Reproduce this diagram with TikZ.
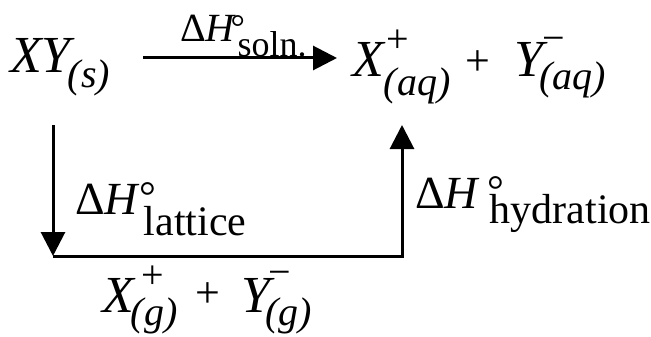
\documentclass[tikz,border=0pt]{standalone}
\usepackage{fontspec}
\setmainfont{Liberation Serif}
\usetikzlibrary{arrows.meta}
\newcommand\fmain{\fontsize{52}{60}\selectfont}
\newcommand\fdh{\fontsize{46}{54}\selectfont}
\newcommand\fdhs{\fontsize{42}{50}\selectfont}
\newcommand\fsub{\fontsize{40}{48}\selectfont}
\newcommand\fsubs{\fontsize{36}{42}\selectfont}
\newcommand\fplus{\fontsize{44}{50}\selectfont}
\begin{document}
\begin{tikzpicture}[x=1pt,y=-1pt,
  every node/.style={inner sep=0pt, outer sep=0pt, anchor=base west},
  arr/.style={line width=3pt, -{Triangle[length=24pt,width=24pt]}}]
\useasboundingbox (0,0) rectangle (651,337);
% species
\node (xy) at (10,73) {\fmain\itshape XY\kern-3pt\raisebox{-15pt}{\fsub(s)}};
\node (aq) at (352,77) {\fmain\itshape X\rlap{\kern3pt\raisebox{24pt}{\fsub\upshape +}}\raisebox{-19pt}{\fsub(aq)}\kern15pt\raisebox{1pt}{\fplus\upshape +}\kern24pt Y\rlap{\kern-1pt\raisebox{25pt}{\fsub\upshape −}}\kern-4pt\raisebox{-13pt}{\fsub(aq)}};
\node (gas) at (102,312) {\fmain\itshape X\rlap{\kern8pt\raisebox{24pt}{\fsub\upshape +}}\kern-3pt\raisebox{-13pt}{\fsub(g)}\kern18pt\raisebox{5pt}{\fplus\upshape +}\kern21pt Y\rlap{\kern-2pt\raisebox{27pt}{\fsub\upshape −}}\kern-5pt\raisebox{-13pt}{\fsub(g)}};
% enthalpy labels
\node (hsol) at (180,42) {\fontsize{40}{48}\selectfont Δ\itshape H\rlap{\kern-4pt\raisebox{2pt}{\fsubs\upshape °}}\kern3pt\raisebox{-15pt}{\fsubs\upshape soln.}};
\node (hlat) at (75,214) {\fdh Δ\itshape H\rlap{\kern2pt\raisebox{4pt}{\fdhs\upshape °}}\kern6pt\raisebox{-21pt}{\fdhs\upshape lattice}};
\node (hhyd) at (415,208) {\fdh Δ\itshape H\rlap{\kern10pt\raisebox{4pt}{\fdhs\upshape °}}\kern12pt\raisebox{-15pt}{\fdhs\upshape hydration}};
% connector points
\coordinate (tA) at (143,58);
\coordinate (tB) at (337,58);
\coordinate (lT) at (53,125);
\coordinate (lB) at (53,256);
\coordinate (rB) at (402,256);
\coordinate (rT) at (402,125);
\draw[arr] (tA) -- (tB);
\draw[arr] (lT) -- (lB);
\draw[arr, line join=miter] (lB) -- (rB) -- (rT);
\end{tikzpicture}
\end{document}
